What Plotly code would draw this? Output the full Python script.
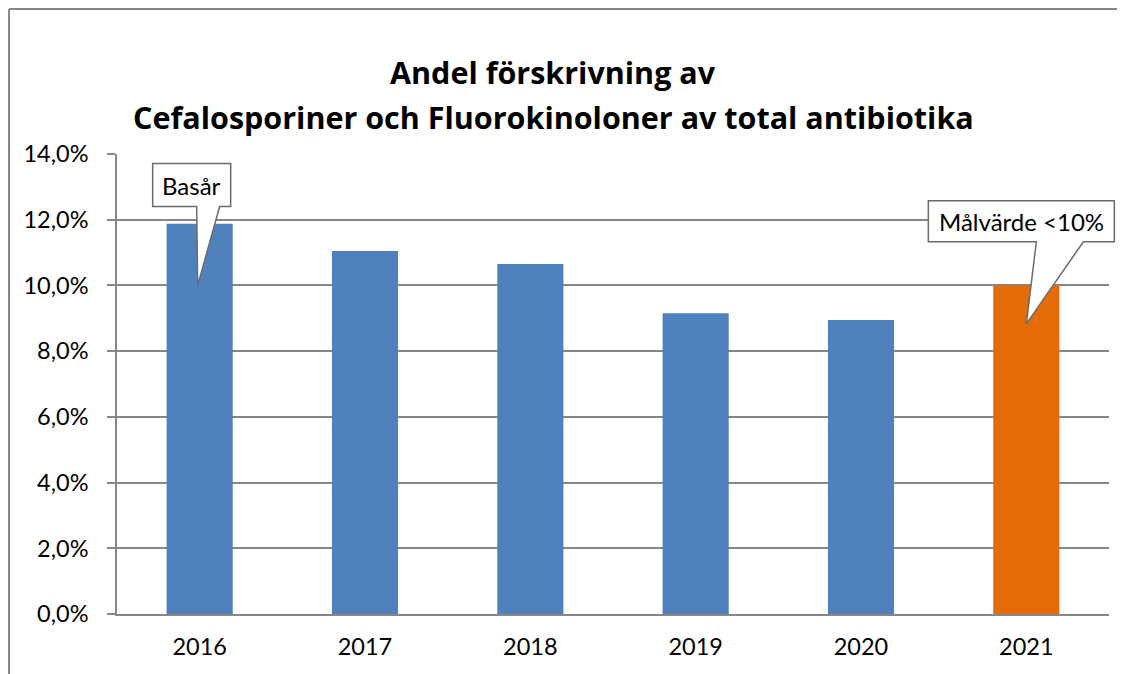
import plotly.graph_objects as go

# data
years = ["2016", "2017", "2018", "2019", "2020", "2021"]
andel = [0.1188, 0.1105, 0.1065, 0.0915, 0.0895, 0.1000]
bar_colors = ["#4F81BD", "#4F81BD", "#4F81BD", "#4F81BD", "#4F81BD", "#E36C09"]

y_ticks = [0, 0.02, 0.04, 0.06, 0.08, 0.10, 0.12, 0.14]

# callouts: category index, value the pointer touches, text
callout_idx = [0, 5]
callout_tip = [0.100, 0.0883]
callout_text = ["Basår", "Målvärde <10%"]

title_lines = ["Andel förskrivning av",
               "Cefalosporiner och Fluorokinoloner av total antibiotika"]

FONT = "Lato"
TITLE_FONT = "Open Sans"
GRID = "#878787"

# the page body has an 8px margin, so the figure is 8px smaller than the window
W, H = 1117, 666
L, R, T, B = 109, 16, 146, 60
PW, PH = W - L - R, H - T - B

fig = go.Figure()
fig.add_trace(go.Bar(
    x=years, y=andel,
    marker=dict(color=bar_colors, line=dict(width=0)),
    width=0.4,
))

# speech bubble outlines in pixels relative to bar centre / tip value
bubble_paths = [
    "M -2,0 L -3,79 L -47,79 L -47,122 L 31,122 L 31,79 L 20,79 Z",
    "M 0,0 L 10,82 L -98,82 L -98,123 L 88,123 L 88,82 L 57,82 Z",
]
text_offsets = [(-8, 100), (-5, 102)]

n = len(years)
for i, idx in enumerate(callout_idx):
    xa = (idx + 0.5) / n
    fig.add_shape(
        type="path", path=bubble_paths[i],
        xref="paper", yref="y", xsizemode="pixel", ysizemode="pixel",
        xanchor=xa, yanchor=callout_tip[i],
        fillcolor="white", line=dict(color="#6b6b6b", width=1.5),
        layer="above",
    )
    fig.add_annotation(
        x=xa, y=callout_tip[i], xref="paper", yref="y",
        xanchor="center", yanchor="middle",
        xshift=text_offsets[i][0], yshift=text_offsets[i][1],
        text=callout_text[i], showarrow=False,
        font=dict(family=FONT, size=24, color="black"),
    )

# title, two lines placed separately for the wide line spacing
for line, ypix in zip(title_lines, [64, 109]):
    fig.add_annotation(
        x=(545 - L) / PW, y=1 + (T - ypix) / PH, xref="paper", yref="paper",
        xanchor="center", yanchor="middle",
        text="<b>" + line + "</b>", showarrow=False,
        font=dict(family=TITLE_FONT, size=30.5, color="black"),
    )

# outer frame of the original chart (cropped on the right and bottom)
fx, fy = (1 - L) / PW, 1 + (T - 1) / PH
fig.add_shape(type="line", xref="paper", yref="paper",
              x0=fx, x1=fx, y0=fy, y1=-0.3,
              line=dict(color="#878787", width=2))
fig.add_shape(type="line", xref="paper", yref="paper",
              x0=fx, x1=1.1, y0=fy, y1=fy,
              line=dict(color="#878787", width=2))

fig.update_layout(
    width=W, height=H,
    margin=dict(l=L, r=R, t=T, b=B, autoexpand=False),
    plot_bgcolor="white", paper_bgcolor="white",
    separators=",.",
    showlegend=False,
    font=dict(family=FONT, size=23.5, color="black"),
    bargap=0.6,
)
fig.update_xaxes(
    showgrid=False, showline=True, linecolor=GRID, linewidth=1.5,
    ticks="", tickfont=dict(size=23.5), ticklabelstandoff=11,
)
fig.update_yaxes(
    range=[0, 0.14], tickvals=y_ticks, tickformat=".1%",
    showgrid=True, gridcolor=GRID, gridwidth=1.5,
    showline=True, linecolor=GRID, linewidth=1.5,
    ticks="outside", ticklen=8, tickcolor=GRID, tickwidth=1.5,
    tickfont=dict(size=23.5), ticklabelstandoff=14,
    zeroline=False,
)

fig.write_html("out.html")
